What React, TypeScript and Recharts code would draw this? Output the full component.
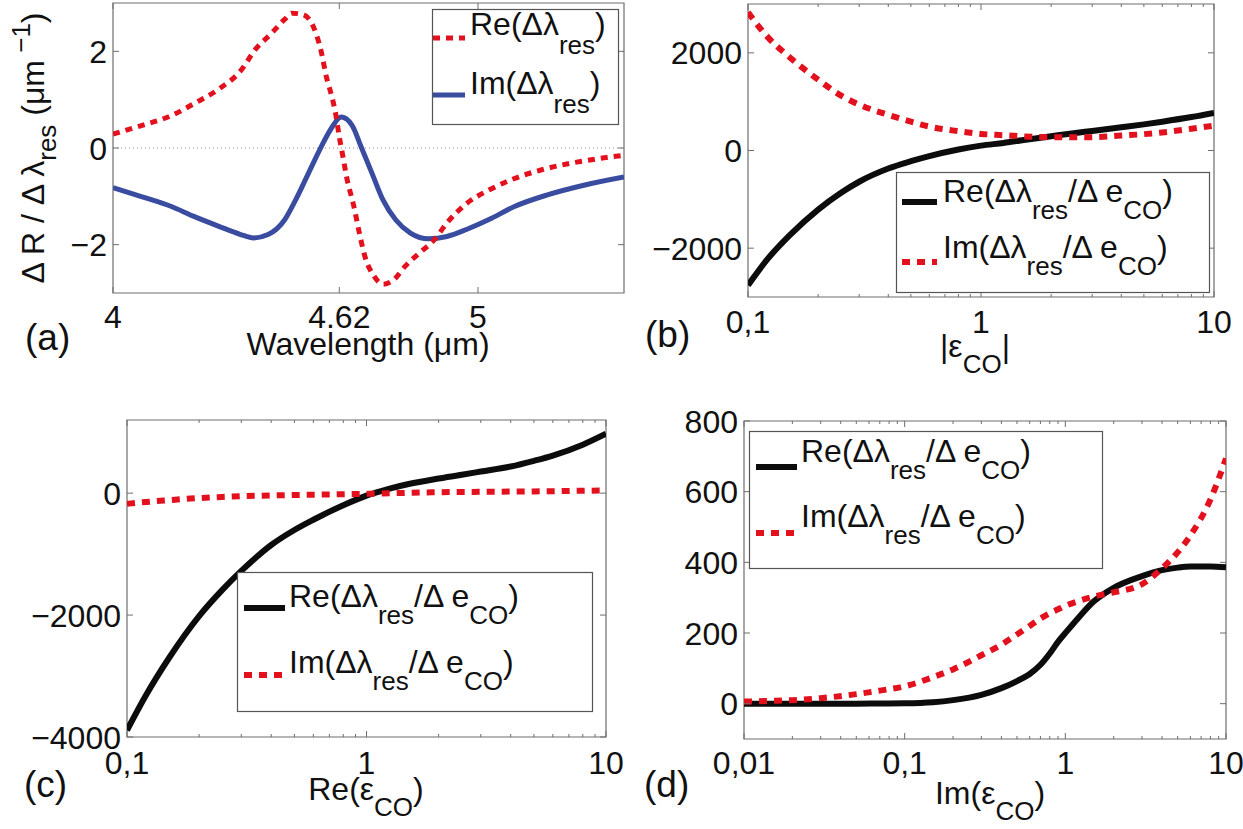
import React from 'react';
import {
  Legend,
  Line,
  LineChart,
  ReferenceArea,
  ReferenceLine,
  XAxis,
  YAxis,
} from 'recharts';

// ---- panel (a): spectral derivative vs wavelength
const aReWl = [4.0, 4.08, 4.16, 4.22, 4.29, 4.35, 4.39, 4.435, 4.47, 4.49, 4.52, 4.55, 4.57, 4.585, 4.6, 4.61, 4.62, 4.63, 4.64, 4.66, 4.675, 4.69, 4.715, 4.74, 4.77, 4.8, 4.84, 4.88, 4.915, 4.97, 5.03, 5.09, 5.17, 5.25, 5.33, 5.4];
const aReVal = [0.29, 0.47, 0.67, 0.91, 1.22, 1.6, 2.04, 2.38, 2.66, 2.79, 2.76, 2.49, 2.01, 1.46, 1.05, 0.71, 0.23, -0.18, -0.6, -1.21, -1.76, -2.24, -2.65, -2.82, -2.72, -2.45, -2.17, -1.9, -1.55, -1.14, -0.87, -0.66, -0.46, -0.32, -0.22, -0.15];
const aImWl = [4.0, 4.08, 4.16, 4.22, 4.29, 4.35, 4.385, 4.425, 4.47, 4.5, 4.535, 4.57, 4.6, 4.625, 4.655, 4.68, 4.71, 4.74, 4.775, 4.815, 4.865, 4.915, 4.97, 5.03, 5.1, 5.19, 5.29, 5.4];
const aImVal = [-0.82, -1.01, -1.21, -1.41, -1.62, -1.79, -1.86, -1.79, -1.49, -1.08, -0.53, 0.02, 0.43, 0.64, 0.47, 0.02, -0.53, -1.08, -1.49, -1.76, -1.88, -1.83, -1.68, -1.48, -1.21, -0.97, -0.77, -0.6];
const aXTicks = [4, 4.62, 5];
const aXLabels = ['4', '4.62', '5'];
const aYTicks = [-2, 0, 2];
const aYLabels = ['\u22122', '0', '2'];

// ---- panels (b) and (c): common permittivity grid
const eps = [0.1, 0.12, 0.15, 0.2, 0.25, 0.3, 0.4, 0.5, 0.6, 0.8, 1, 1.25, 1.5, 2, 2.5, 3, 4, 5, 6, 8, 10];
const bRe = [-2760, -2250, -1750, -1210, -870, -640, -370, -220, -115, 20, 100, 155, 210, 292, 355, 400, 475, 535, 590, 685, 770];
const bIm = [2830, 2350, 1920, 1450, 1130, 940, 730, 590, 490, 395, 340, 312, 290, 273, 272, 273, 306, 335, 370, 445, 510];
const cRe = [-3890, -3315, -2700, -2017, -1587, -1276, -850, -604, -436, -198, -40, 75, 150, 240, 301, 354, 438, 531, 617, 795, 975];
const cIm = [-175, -145, -115, -80, -62, -50, -38, -30, -25, -17, -11, -2, 6, 15, 19, 22, 26, 29, 32, 39, 44];
const bYTicks = [-2000, 0, 2000];
const bYLabels = ['\u22122000', '0', '2000'];
const cYTicks = [-4000, -2000, 0];
const cYLabels = ['\u22124000', '\u22122000', '0'];
const logMajors = [0.1, 1, 10];
const logLabels = ['0,1', '1', '10'];
const logMinors = [0.2, 0.3, 0.4, 0.5, 0.6, 0.7, 0.8, 0.9, 2, 3, 4, 5, 6, 7, 8, 9];

// ---- panel (d): imaginary part grid
const dEps = [0.01, 0.015, 0.02, 0.03, 0.05, 0.07, 0.1, 0.15, 0.2, 0.3, 0.4, 0.5, 0.6, 0.7, 0.8, 0.9, 1, 1.2, 1.5, 2, 3, 4, 5, 6, 8, 10];
const dRe = [0, 0, 0, 0, 0, 0.5, 1, 4, 10, 25, 44, 64, 84, 110, 142, 175, 200, 242, 289, 328, 361, 378, 385, 388, 388, 386];
const dIm = [6, 8, 10, 15.5, 27, 37, 49, 75, 97, 137, 167, 196, 220, 241, 256, 267, 277, 290, 303, 315, 338, 383, 428, 476, 578, 694];
const dYTicks = [0, 200, 400, 600, 800];
const dYLabels = ['0', '200', '400', '600', '800'];
const dMajors = [0.01, 0.1, 1, 10];
const dLabels = ['0,01', '0,1', '1', '10'];
const dMinors = [0.02, 0.03, 0.04, 0.05, 0.06, 0.07, 0.08, 0.09, 0.2, 0.3, 0.4, 0.5, 0.6, 0.7, 0.8, 0.9, 2, 3, 4, 5, 6, 7, 8, 9];

const FONT = '"Liberation Sans", Arial, Helvetica, sans-serif';
const FS = 32;
const SUB = 26;
const RED = '#e3101e';
const BLUE = '#3a4c9f';
const BLACK = '#0c0c0c';
const AXIS = '#6e6e6e';
const INK = '#111';

type Box = { l: number; t: number; r: number; b: number };

const pts = (xs: number[], ys: number[]) => xs.map((x, i) => ({ x, y: ys[i] }));

function xTick(box: Box, majors: number[], labels: string[], ly: number) {
  return (p: any) => {
    const v = p.payload.value;
    const x = p.x;
    const i = majors.findIndex((m) => Math.abs(m - v) < 1e-9);
    const len = i >= 0 ? 6 : 3;
    return (
      <g>
        <line x1={x} x2={x} y1={box.b} y2={box.b - len} stroke={AXIS} />
        <line x1={x} x2={x} y1={box.t} y2={box.t + len} stroke={AXIS} />
        {i >= 0 && (
          <text x={x} y={ly} textAnchor="middle" fontSize={FS} fontFamily={FONT} fill={INK}>
            {labels[i]}
          </text>
        )}
      </g>
    );
  };
}

function yTick(box: Box, majors: number[], labels: string[]) {
  return (p: any) => {
    const v = p.payload.value;
    const y = p.y;
    const i = majors.findIndex((m) => Math.abs(m - v) < 1e-9);
    return (
      <g>
        <line x1={box.l} x2={box.l + 6} y1={y} y2={y} stroke={AXIS} />
        <line x1={box.r - 6} x2={box.r} y1={y} y2={y} stroke={AXIS} />
        <text x={box.l - 6} y={y} dy="0.36em" textAnchor="end" fontSize={FS} fontFamily={FONT} fill={INK}>
          {labels[i]}
        </text>
      </g>
    );
  };
}

function ratioLabel(prefix: string) {
  return (
    <>
      <tspan>{prefix}(Δλ</tspan>
      <tspan fontSize={SUB} dy={17}>res</tspan>
      <tspan dy={-17}>/Δ e</tspan>
      <tspan fontSize={SUB} dy={17}>CO</tspan>
      <tspan dy={-17}>)</tspan>
    </>
  );
}

function shiftLabel(prefix: string) {
  return (
    <>
      <tspan>{prefix}(Δλ</tspan>
      <tspan fontSize={SUB} dy={19}>res</tspan>
      <tspan dy={-19}>)</tspan>
    </>
  );
}

type Row = { label: React.ReactNode; color: string; dash?: string; width: number };

function LegendBox(props: {
  w: number;
  h: number;
  rows: Row[];
  base: number[];
  sampleY: number[];
  sx: [number, number];
  tx: number;
}) {
  const { w, h, rows, base, sampleY, sx, tx } = props;
  return (
    <svg width={w} height={h} style={{ display: 'block', overflow: 'visible' }}>
      <rect x={0.5} y={0.5} width={w - 1} height={h - 1} fill="#fff" stroke="#555" strokeWidth={1.2} />
      {rows.map((r, i) => (
        <g key={i}>
          <line x1={sx[0]} x2={sx[1]} y1={sampleY[i]} y2={sampleY[i]} stroke={r.color} strokeWidth={r.width} strokeDasharray={r.dash} />
          <text x={tx} y={base[i]} fontSize={FS} fontFamily={FONT} fill={INK}>
            {r.label}
          </text>
        </g>
      ))}
    </svg>
  );
}

function PanelA() {
  const W = 630;
  const H = 370;
  const box: Box = { l: 113, t: 3, r: 624, b: 293 };
  const rows: Row[] = [
    { label: shiftLabel('Re'), color: RED, dash: '7 6', width: 5 },
    { label: shiftLabel('Im'), color: BLUE, width: 5 },
  ];
  return (
    <LineChart width={W} height={H} margin={{ top: box.t, right: W - box.r, left: 0, bottom: 0 }}>
      <ReferenceArea x1={4} x2={5.4} y1={-3} y2={3} fill="none" stroke={AXIS} strokeWidth={1.2} />
      <XAxis
        type="number"
        dataKey="x"
        domain={[4, 5.4]}
        ticks={aXTicks}
        interval={0}
        allowDataOverflow
        height={H - box.b}
        axisLine={false}
        tickLine={false}
        tick={xTick(box, aXTicks, aXLabels, 328)}
        label={{
          content: () => (
            <g fontFamily={FONT} fill={INK}>
              <text x={368} y={355} textAnchor="middle" fontSize={FS}>Wavelength (μm)</text>
              <text x={25} y={350} fontSize={37}>(a)</text>
            </g>
          ),
        }}
      />
      <YAxis
        type="number"
        domain={[-3, 3]}
        ticks={aYTicks}
        interval={0}
        allowDataOverflow
        width={box.l}
        axisLine={false}
        tickLine={false}
        tick={yTick(box, aYTicks, aYLabels)}
        label={{
          content: () => (
            <text transform="rotate(-90 44 148)" x={44} y={148} textAnchor="middle" fontSize={FS} fontFamily={FONT} fill={INK}>
              <tspan>Δ R / Δ λ</tspan>
              <tspan fontSize={SUB} dy={12}>res</tspan>
              <tspan dy={-12}> (μm</tspan>
              <tspan fontSize={SUB} dy={-14}> −1</tspan>
              <tspan dy={14}>)</tspan>
            </text>
          ),
        }}
      />
      <ReferenceLine y={0} stroke="#8a8a8a" strokeDasharray="1 3" />
      <Line data={pts(aImWl, aImVal)} dataKey="y" type="monotone" stroke={BLUE} strokeWidth={5} dot={false} isAnimationActive={false} />
      <Line data={pts(aReWl, aReVal)} dataKey="y" type="monotone" stroke={RED} strokeWidth={5} strokeDasharray="7 6" dot={false} isAnimationActive={false} />
      <Legend
        layout="vertical"
        align="center"
        verticalAlign="middle"
        wrapperStyle={{ left: 432, top: 9, width: 187, height: 116 }}
        content={() => (
          <LegendBox w={187} h={116} rows={rows} base={[26, 85]} sampleY={[29, 86]} sx={[1, 33]} tx={38} />
        )}
      />
    </LineChart>
  );
}

function EpsPanel(props: {
  W: number;
  H: number;
  box: Box;
  xs: number[];
  re: number[];
  im: number[];
  xDomain: [number, number];
  majors: number[];
  labels: string[];
  minors: number[];
  yDomain: [number, number];
  yTicks: number[];
  yLabels: string[];
  tickY: number;
  title: React.ReactNode;
  titleX: number;
  titleY: number;
  letter: string;
  letterX: number;
  letterY: number;
  lg: { left: number; top: number; w: number; h: number; base: number[]; sampleY: number[]; sx: [number, number]; tx: number };
}) {
  const p = props;
  const rows: Row[] = [
    { label: ratioLabel('Re'), color: BLACK, width: 6 },
    { label: ratioLabel('Im'), color: RED, dash: '8 7', width: 6 },
  ];
  const allTicks = [...p.majors, ...p.minors].sort((a, b) => a - b);
  return (
    <LineChart width={p.W} height={p.H} margin={{ top: p.box.t, right: p.W - p.box.r, left: 0, bottom: 0 }}>
      <ReferenceArea x1={p.xDomain[0]} x2={p.xDomain[1]} y1={p.yDomain[0]} y2={p.yDomain[1]} fill="none" stroke={AXIS} strokeWidth={1.2} />
      <XAxis
        type="number"
        dataKey="x"
        scale="log"
        domain={p.xDomain}
        ticks={allTicks}
        interval={0}
        allowDataOverflow
        height={p.H - p.box.b}
        axisLine={false}
        tickLine={false}
        tick={xTick(p.box, p.majors, p.labels, p.tickY)}
        label={{
          content: () => (
            <g fontFamily={FONT} fill={INK}>
              <text x={p.titleX} y={p.titleY} textAnchor="middle" fontSize={FS}>{p.title}</text>
              <text x={p.letterX} y={p.letterY} fontSize={37}>{p.letter}</text>
            </g>
          ),
        }}
      />
      <YAxis
        type="number"
        domain={p.yDomain}
        ticks={p.yTicks}
        interval={0}
        allowDataOverflow
        width={p.box.l}
        axisLine={false}
        tickLine={false}
        tick={yTick(p.box, p.yTicks, p.yLabels)}
      />
      <Line data={pts(p.xs, p.re)} dataKey="y" type="monotone" stroke={BLACK} strokeWidth={6} dot={false} isAnimationActive={false} />
      <Line data={pts(p.xs, p.im)} dataKey="y" type="monotone" stroke={RED} strokeWidth={6} strokeDasharray="8 7" dot={false} isAnimationActive={false} />
      <Legend
        layout="vertical"
        align="center"
        verticalAlign="middle"
        wrapperStyle={{ left: p.lg.left, top: p.lg.top, width: p.lg.w, height: p.lg.h }}
        content={() => (
          <LegendBox w={p.lg.w} h={p.lg.h} rows={rows} base={p.lg.base} sampleY={p.lg.sampleY} sx={p.lg.sx} tx={p.lg.tx} />
        )}
      />
    </LineChart>
  );
}

const epsSub = (pre: string, post: string) => (
  <>
    <tspan>{pre}ε</tspan>
    <tspan fontSize={SUB} dy={16}>CO</tspan>
    <tspan dy={-16}>{post}</tspan>
  </>
);

export default function App() {
  return (
    <div style={{ position: 'relative', width: 1243, height: 829, background: '#fff', overflow: 'hidden' }}>
      <style>{'body{margin:0}'}</style>
      <div style={{ position: 'absolute', left: 0, top: 0 }}>
        <PanelA />
      </div>
      <div style={{ position: 'absolute', left: 630, top: 0 }}>
        <EpsPanel
          W={613}
          H={380}
          box={{ l: 118, t: 4, r: 584, b: 297 }}
          xs={eps}
          re={bRe}
          im={bIm}
          xDomain={[0.1, 10]}
          majors={logMajors}
          labels={logLabels}
          minors={logMinors}
          yDomain={[-3000, 3000]}
          yTicks={bYTicks}
          yLabels={bYLabels}
          tickY={333}
          title={epsSub('|', '|')}
          titleX={345}
          titleY={357}
          letter="(b)"
          letterX={15}
          letterY={347}
          lg={{ left: 266, top: 172, w: 314, h: 121, base: [30, 86], sampleY: [30, 90], sx: [6, 41], tx: 47 }}
        />
      </div>
      <div style={{ position: 'absolute', left: 0, top: 400 }}>
        <EpsPanel
          W={630}
          H={429}
          box={{ l: 127, t: 20, r: 606, b: 337 }}
          xs={eps}
          re={cRe}
          im={cIm}
          xDomain={[0.1, 10]}
          majors={logMajors}
          labels={logLabels}
          minors={logMinors}
          yDomain={[-4000, 1200]}
          yTicks={cYTicks}
          yLabels={cYLabels}
          tickY={374}
          title={epsSub('Re(', ')')}
          titleX={366}
          titleY={400}
          letter="(c)"
          letterX={24}
          letterY={397}
          lg={{ left: 237, top: 172, w: 356, h: 140, base: [35, 101], sampleY: [36, 103], sx: [7, 48], tx: 52 }}
        />
      </div>
      <div style={{ position: 'absolute', left: 630, top: 400 }}>
        <EpsPanel
          W={613}
          H={429}
          box={{ l: 114, t: 21, r: 596, b: 339 }}
          xs={dEps}
          re={dRe}
          im={dIm}
          xDomain={[0.01, 10]}
          majors={dMajors}
          labels={dLabels}
          minors={dMinors}
          yDomain={[-100, 800]}
          yTicks={dYTicks}
          yLabels={dYLabels}
          tickY={374}
          title={epsSub('Im(', ')')}
          titleX={360}
          titleY={404}
          letter="(d)"
          letterX={14}
          letterY={397}
          lg={{ left: 119, top: 31, w: 354, h: 138, base: [31, 96], sampleY: [36, 102], sx: [7, 48], tx: 52 }}
        />
      </div>
    </div>
  );
}
